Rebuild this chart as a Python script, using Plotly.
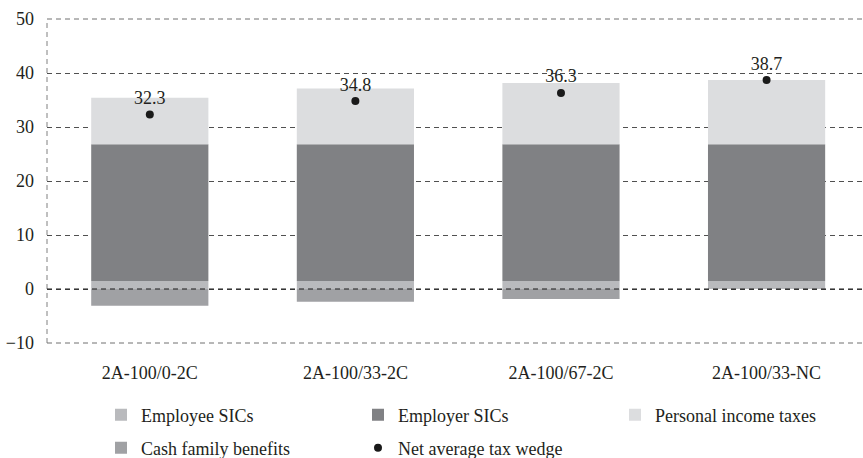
import plotly.graph_objects as go

# Household types (two-earner couples, principal at 100% of average wage)
categories = ["2A-100/0-2C", "2A-100/33-2C", "2A-100/67-2C", "2A-100/33-NC"]

# Components of the tax wedge, % of labour costs
employee_sics = [1.5, 1.5, 1.5, 1.5]
employer_sics = [25.3, 25.3, 25.3, 25.3]
personal_income_taxes = [8.6, 10.35, 11.35, 11.9]
cash_family_benefits = [-3.1, -2.35, -1.85, 0.0]
net_tax_wedge = [32.3, 34.8, 36.3, 38.7]

y_ticks = [-10, 0, 10, 20, 30, 40, 50]

FONT = "Liberation Serif"
TEXT = "#231f20"
DASH = "5px,4px"

fig = go.Figure()

fig.add_trace(go.Bar(x=categories, y=employee_sics, name="Employee SICs",
                     marker=dict(color="#b9babd", line=dict(width=0)), legend="legend"))
fig.add_trace(go.Bar(x=categories, y=employer_sics, name="Employer SICs",
                     marker=dict(color="#808184", line=dict(width=0)), legend="legend"))
fig.add_trace(go.Bar(x=categories, y=personal_income_taxes, name="Personal income taxes",
                     marker=dict(color="#dcdddf", line=dict(width=0)), legend="legend"))
fig.add_trace(go.Bar(x=categories, y=cash_family_benefits, name="Cash family benefits",
                     marker=dict(color="#a0a1a4", line=dict(width=0)), legend="legend2"))
fig.add_trace(go.Scatter(x=categories, y=net_tax_wedge, name="Net average tax wedge",
                         mode="markers+text",
                         text=[f"{v:.1f}" for v in net_tax_wedge],
                         textposition="top center",
                         textfont=dict(family=FONT, size=18, color=TEXT),
                         marker=dict(color="#1a1a1a", size=8),
                         legend="legend2"))

# zero line drawn over the bars
fig.add_shape(type="line", xref="paper", x0=0, x1=1, yref="y", y0=0, y1=0,
              line=dict(color="#1a1a1a", width=1, dash=DASH), layer="above")
# dashed frame of the plot area: left, top and bottom edges
fig.add_shape(type="line", xref="paper", x0=0, x1=0, yref="paper", y0=0, y1=1,
              line=dict(color="#808080", width=1, dash=DASH), layer="below")
for edge in (0, 1):
    fig.add_shape(type="line", xref="paper", x0=0, x1=1, yref="paper", y0=edge, y1=edge,
                  line=dict(color="#707070", width=1, dash=DASH), layer="below")

legend_common = dict(
    orientation="h",
    xref="container", yref="container",
    xanchor="left", yanchor="middle",
    font=dict(family=FONT, size=18, color=TEXT),
    bgcolor="rgba(0,0,0,0)",
    entrywidth=212, entrywidthmode="pixels",
    traceorder="normal",
)

fig.update_layout(
    width=863, height=458,
    margin=dict(l=47, r=0, t=19, b=115),
    paper_bgcolor="white", plot_bgcolor="white",
    barmode="relative", bargap=0.43,
    font=dict(family=FONT, size=18, color=TEXT),
    showlegend=True,
    legend=dict(legend_common, x=101 / 863, y=43 / 458),
    legend2=dict(legend_common, x=101 / 863, y=10 / 458),
    xaxis=dict(range=[-0.5, 3.469], showgrid=False, showline=False, zeroline=False,
               ticks="", ticklabelstandoff=17,
               tickfont=dict(family=FONT, size=18, color=TEXT)),
    yaxis=dict(range=[-10, 50], tickvals=y_ticks, showgrid=True,
               gridcolor="#505050", gridwidth=1, griddash=DASH,
               zeroline=False, showline=False, ticks="", ticklabelstandoff=12,
               tickfont=dict(family=FONT, size=18, color=TEXT)),
)

fig.write_html("out.html")
